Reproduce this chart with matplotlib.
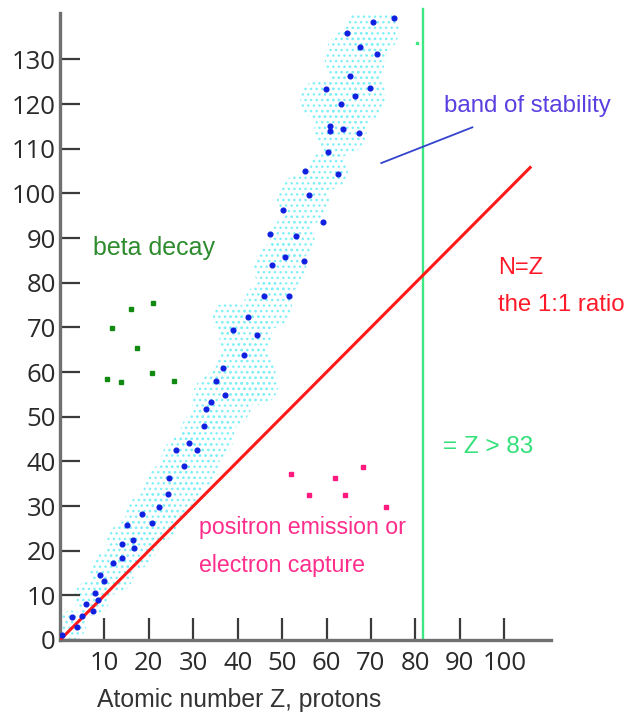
import matplotlib
matplotlib.use("Agg")
import matplotlib.pyplot as plt
import matplotlib.patches as patches

# stable nuclides (dark blue dots), Z vs N
stable_z = [0.5, 3.8, 2.8, 4.9, 7.4, 5.8, 8.5, 7.9, 10.0, 9.0, 12.0, 13.9, 16.7, 13.9, 16.4,
            15.1, 20.7, 18.5, 22.3, 24.3, 24.6, 27.9, 26.1, 30.8, 29.0, 32.4, 32.9, 33.9, 37.2,
            35.0, 36.6, 41.3, 44.3, 39.0, 42.2, 45.9, 51.5, 47.7, 54.8, 50.7, 53.1, 47.3, 59.1,
            50.2, 56.1, 62.5, 55.2, 60.3, 67.2, 63.7, 60.8, 60.7, 63.3, 66.3, 69.8, 59.9, 65.2,
            71.3, 67.6, 64.6, 70.4, 75.2]
stable_n = [1.2, 3.0, 5.1, 5.4, 6.5, 8.0, 9.0, 10.6, 13.1, 14.6, 17.2, 18.3, 20.7, 21.5, 22.5,
            25.7, 26.1, 28.2, 29.7, 32.8, 36.3, 39.0, 42.5, 42.5, 44.1, 47.9, 51.8, 53.2, 54.8,
            58.0, 61.0, 63.9, 68.3, 69.4, 72.4, 77.0, 77.0, 84.0, 84.8, 85.7, 90.4, 90.9, 93.6,
            96.3, 99.7, 104.4, 105.1, 109.2, 113.5, 114.4, 113.9, 115.2, 120.1, 121.9, 123.6, 123.3, 126.3,
            131.3, 132.9, 135.9, 138.3, 139.2]

# spray of unstable nuclides: blob centres and radii along the band
blob_z = [2.7, 7.2, 11.7, 16.2, 20.7, 25.2, 29.3, 33.1, 36.5, 41.7, 41.7, 46.8, 49.5, 52.3,
          54.7, 60.4, 63.1, 66.4, 66.4, 70.3, 44.6, 38.3, 58.6]
blob_n = [3.4, 9.4, 15.2, 21.3, 27.3, 33.6, 39.8, 45.9, 53.7, 60.0, 68.3, 75.0, 83.3, 90.0,
          98.5, 105.2, 114.2, 122.0, 130.3, 136.6, 57.1, 71.9, 121.0]
blob_r = [3.2, 4.0, 5.0, 5.7, 6.0, 6.4, 6.6, 6.1, 6.8, 6.8, 5.9, 5.4, 5.9, 5.0,
          5.9, 4.4, 5.9, 6.8, 6.8, 6.0, 4.5, 4.0, 4.5]

# beta decay examples (green)
beta_z = [21.0, 15.9, 11.7, 17.4, 10.6, 13.8, 20.6, 25.7]
beta_n = [75.4, 74.1, 69.8, 65.3, 58.5, 57.7, 59.7, 58.0]

# positron emission / electron capture examples (pink)
pos_z = [52.0, 62.0, 68.3, 56.1, 64.2, 73.4]
pos_n = [37.1, 36.2, 38.8, 32.5, 32.5, 29.8]

nz_line = [0, 105.8]
z_limit = 81.7
pointer_z = [72.3, 92.8]
pointer_n = [106.8, 114.8]

x_ticks = [10, 20, 30, 40, 50, 60, 70, 80, 90, 100]
y_ticks = [0, 10, 20, 30, 40, 50, 60, 70, 80, 90, 100, 110, 120, 130]

plt.rcParams['hatch.linewidth'] = 1.0

fig = plt.figure(figsize=(6.39, 7.15), dpi=100)
ax = fig.add_axes([0.0939, 0.1049, 0.7684, 0.8769])
ax.set_xlim(0, 110.5)
ax.set_ylim(0, 140.4)

for z, n, r in zip(blob_z, blob_n, blob_r):
    blob = patches.Circle((z, n), r, fill=False, hatch='...', edgecolor='#80f0f7',
                          linewidth=0, zorder=1)
    ax.add_patch(blob)

ax.plot(nz_line, nz_line, color='#ff1a1a', linewidth=2.2, zorder=3)
ax.plot(stable_z, stable_n, 'o', color='#1020e0', markersize=3.4, zorder=4)
ax.plot(beta_z, beta_n, 's', color='#128a12', markersize=2.8, zorder=4)
ax.plot(pos_z, pos_n, 's', color='#ff1a80', markersize=2.8, zorder=4)
ax.plot([80.4], [133.6], 's', color='#3de882', markersize=1.8, zorder=4)

ax.axvline(z_limit, ymin=0, ymax=1.006, color='#3de882', linewidth=1.7, clip_on=False, zorder=2)
ax.plot(pointer_z, pointer_n, color='#3344cc', linewidth=1.3, zorder=4)

label_font = ['Liberation Sans', 'DejaVu Sans']
ax.text(7.4, 87.8, 'beta decay', color='#2e8b2e', fontsize=18, va='center', family=label_font)
ax.text(86.5, 119.5, 'band of stability', color='#5b3fe0', fontsize=17.3, va='center',
        family=label_font)
ax.text(98.6, 83.4, 'N=Z', color='#ff1a2a', fontsize=17, va='center', family=label_font)
ax.text(98.6, 75.0, 'the 1:1 ratio', color='#ff1a2a', fontsize=17.3, va='center', family=label_font)
ax.text(86.3, 43.3, '= Z > 83', color='#33e07a', fontsize=17.5, va='center', family=label_font)
ax.text(31.3, 25.3, 'positron emission or', color='#ff2d8c', fontsize=16.7, va='center',
        family=label_font)
ax.text(31.3, 16.6, 'electron capture', color='#ff2d8c', fontsize=16.7, va='center',
        family=label_font)

fig.text(96.7 / 639, 0.0112, 'Atomic number Z, protons', color='#333333', fontsize=17.8,
         va='baseline', family=label_font)

# axes styling
for side in ['top', 'right']:
    ax.spines[side].set_visible(False)
for side in ['left', 'bottom']:
    ax.spines[side].set_color('#707070')
    ax.spines[side].set_linewidth(2.4)

ax.set_xticks(x_ticks)
ax.set_yticks(y_ticks)
ax.tick_params(axis='both', direction='in', color='#3a3a3a', width=1.6,
               labelcolor='#2a2a2a', labelsize=18.5)
ax.tick_params(axis='x', length=16, pad=8)
ax.tick_params(axis='y', length=14.5, pad=3)
for lab in ax.get_xticklabels() + ax.get_yticklabels():
    lab.set_family('Open Sans')

fig.savefig('out.png', dpi=100)
